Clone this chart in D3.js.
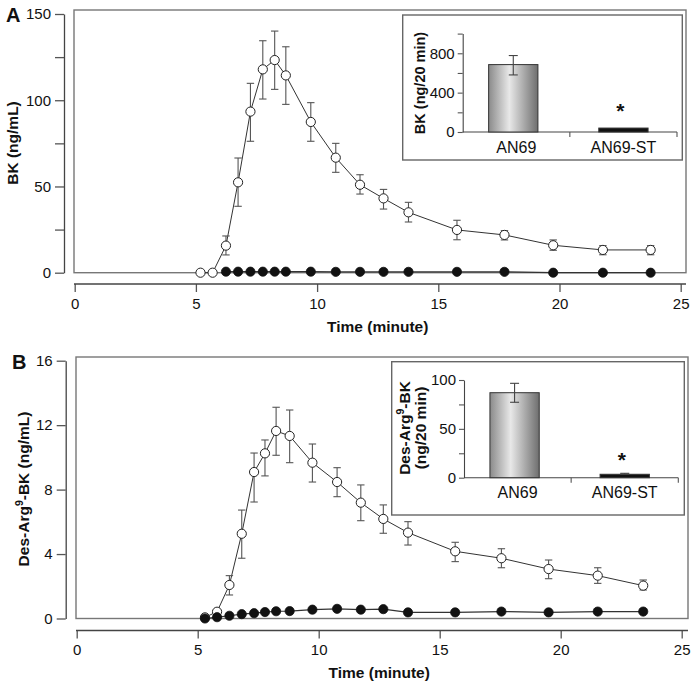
<!DOCTYPE html>
<html><head><meta charset="utf-8">
<script src="https://cdn.jsdelivr.net/npm/d3@7"></script>
<style>
body{margin:0;background:#fff}
text{font-family:"Liberation Sans", Arial, Helvetica, sans-serif;fill:#111}
</style>
</head><body>
<svg id="c" width="695" height="686"></svg>
<script>
// ---------- DATA ----------
// Panel A: BK (ng/mL)
const timeA = [5.19,5.69,6.24,6.74,7.25,7.76,8.25,8.71,9.74,10.77,11.77,12.74,13.77,15.77,17.73,19.74,21.79,23.76];
const openA = [0,0,15.7,52.4,93.4,117.9,123.3,114.4,87.4,66.7,51,43.1,35,24.8,21.9,15.9,13.2,13.2];
const openA_lo = [null,null,10.3,38.5,76.2,100.7,106.3,97.6,76.2,58.2,45.6,36.9,29.4,19.1,19,13,10.4,10.4];
const openA_hi = [null,null,21.3,66.5,109.8,134.5,140.1,131,98.6,75,56.8,48.3,40.8,30.4,24.4,19,15.7,15.7];
const filledA = [null,null,0.6,0.6,0.6,0.6,0.6,0.6,0.6,0.5,0.5,0.5,0.5,0.5,0.5,0,0,0];
// Panel B: Des-Arg9-BK (ng/mL)
const timeB = [5.30,5.80,6.31,6.82,7.33,7.78,8.24,8.80,9.74,10.76,11.74,12.67,13.69,15.64,17.55,19.50,21.53,23.41];
const openB = [0.07,0.42,2.08,5.26,9.09,10.25,11.64,11.33,9.67,8.47,7.19,6.18,5.33,4.17,3.74,3.07,2.66,2.04];
const openB_lo = [null,null,1.46,3.74,7.23,8.85,10.13,9.67,8.47,7.56,6.07,5.29,4.56,3.53,3.15,2.47,2.18,1.77];
const openB_hi = [null,null,2.66,6.73,10.27,11.08,13.11,12.94,10.83,9.36,8.29,7.05,6.01,4.73,4.33,3.63,3.15,2.39];
const filledB = [0,0.08,0.17,0.27,0.33,0.4,0.45,0.46,0.55,0.6,0.55,0.58,0.38,0.38,0.43,0.38,0.43,0.43];
// Insets
const insetCats = ["AN69","AN69-ST"];
const insetA = [685,40];
const insetA_lo = [580,null];
const insetA_hi = [777,null];
const insetB = [87,3.5];
const insetB_lo = [77.2,3.5];
const insetB_hi = [96.6,4.5];
// Ticks
const xTicks = [0,5,10,15,20,25];
const yTicksA = [0,25,50,75,100,125,150];
const yLabelsA = [0,50,100,150];
const yTicksB = [0,4,8,12,16];
const insetTicksA = [0,200,400,600,800,1000];
const insetLabelsA = [0,400,800];
const insetTicksB = [0,25,50,75,100];
const insetLabelsB = [0,50,100];

// ---------- DRAW ----------
const svg = d3.select("#c");
const defs = svg.append("defs");
const grad = defs.append("linearGradient").attr("id","barGrad").attr("x1","0").attr("x2","1").attr("y1","0").attr("y2","0");
grad.append("stop").attr("offset","0%").attr("stop-color","#8a8a8a");
grad.append("stop").attr("offset","42%").attr("stop-color","#e8e8e8");
grad.append("stop").attr("offset","100%").attr("stop-color","#6e6e6e");

const axisColor = "#444";
const FONT = "Liberation Sans, Arial, sans-serif";

function panel(cfg){
  const g = svg.append("g");
  const x = d3.scaleLinear().domain([0,25]).range(cfg.xr);
  const y = d3.scaleLinear().domain(cfg.ydom).range(cfg.yr);
  // box
  g.append("rect").attr("x",cfg.box.L).attr("y",cfg.box.T)
   .attr("width",cfg.box.R-cfg.box.L).attr("height",cfg.box.B-cfg.box.T)
   .attr("fill","none").attr("stroke","#777").attr("stroke-width",1.4);
  // y axis
  const ya = d3.axisLeft(y).tickValues(cfg.yticks).tickSize(9).tickSizeOuter(0).tickPadding(4)
     .tickFormat(d => cfg.ylabels.includes(d) ? d : "");
  const yg = g.append("g").attr("transform",`translate(${cfg.yAxisX},0)`).call(ya);
  yg.select(".domain").attr("stroke",axisColor).attr("stroke-width",1.3);
  yg.selectAll(".tick line").attr("stroke","#555").attr("stroke-width",1.3);
  yg.selectAll(".tick text").attr("font-size",15).attr("fill","#111").attr("font-family",FONT);
  // x axis
  const xa = d3.axisBottom(x).tickValues(xTicks).tickSize(8).tickSizeOuter(0).tickPadding(6);
  const xg = g.append("g").attr("transform",`translate(0,${cfg.xAxisY})`).call(xa);
  xg.select(".domain").remove();
  xg.append("line").attr("x1",cfg.box.L).attr("x2",cfg.box.R).attr("y1",0).attr("y2",0)
    .attr("stroke",axisColor).attr("stroke-width",1.3);
  xg.selectAll(".tick line").attr("stroke","#555").attr("stroke-width",1.3);
  xg.selectAll(".tick text").attr("font-size",15).attr("fill","#111").attr("font-family",FONT);
  // titles
  g.append("text").attr("x",(cfg.xr[0]+cfg.xr[1])/2).attr("y",cfg.xAxisY+47.5)
   .attr("text-anchor","middle").attr("font-weight","bold").attr("font-size",15.5).text("Time (minute)");
  const yt = g.append("text").attr("transform",`translate(${cfg.ytitleX},${cfg.ytitleY}) rotate(-90)`)
   .attr("text-anchor","middle").attr("font-weight","bold").attr("font-size",15.5);
  cfg.ytitle(yt);
  g.append("text").attr("x",cfg.letterX).attr("y",cfg.letterY).attr("font-weight","bold")
   .attr("font-size",20).text(cfg.letter);

  // data
  const openPts = cfg.time.map((t,i)=>({t,v:cfg.open[i],lo:cfg.lo[i],hi:cfg.hi[i]}));
  const fillPts = cfg.time.map((t,i)=>({t,v:cfg.filled[i]})).filter(d=>d.v!==null);
  const line = d3.line().x(d=>x(d.t)).y(d=>y(d.v));
  g.append("path").datum(openPts).attr("d",line).attr("fill","none").attr("stroke","#333").attr("stroke-width",1);
  g.append("path").datum(fillPts).attr("d",line).attr("fill","none").attr("stroke","#333").attr("stroke-width",1.2);
  const eb = openPts.filter(d=>d.lo!==null);
  const eg = g.append("g").attr("stroke","#555").attr("stroke-width",1.1);
  eg.selectAll(".v").data(eb).join("line").attr("x1",d=>x(d.t)).attr("x2",d=>x(d.t))
    .attr("y1",d=>y(d.lo)).attr("y2",d=>y(d.hi));
  eg.selectAll(".ct").data(eb).join("line").attr("x1",d=>x(d.t)-3.7).attr("x2",d=>x(d.t)+3.7)
    .attr("y1",d=>y(d.hi)).attr("y2",d=>y(d.hi));
  eg.selectAll(".cb").data(eb).join("line").attr("x1",d=>x(d.t)-3.7).attr("x2",d=>x(d.t)+3.7)
    .attr("y1",d=>y(d.lo)).attr("y2",d=>y(d.lo));
  g.selectAll(".op").data(openPts).join("circle").attr("cx",d=>x(d.t)).attr("cy",d=>y(d.v))
    .attr("r",4.6).attr("fill","#fff").attr("stroke","#222").attr("stroke-width",1);
  g.selectAll(".fp").data(fillPts).join("circle").attr("cx",d=>x(d.t)).attr("cy",d=>y(d.v))
    .attr("r",4.6).attr("fill","#111").attr("stroke","#111").attr("stroke-width",0.8);

  // inset
  const ic = cfg.inset;
  g.append("rect").attr("x",ic.box.L).attr("y",ic.box.T).attr("width",ic.box.R-ic.box.L)
   .attr("height",ic.box.B-ic.box.T).attr("fill","#fff").attr("stroke","#666").attr("stroke-width",1.4);
  const ix = d3.scaleBand().domain(insetCats).range(ic.xr).padding(0);
  const iy = d3.scaleLinear().domain(ic.ydom).range(ic.yr);
  const iya = d3.axisLeft(iy).tickValues(ic.ticks).tickSize(5).tickSizeOuter(0).tickPadding(3)
     .tickFormat(d => ic.labels.includes(d) ? d : "");
  const iyg = g.append("g").attr("transform",`translate(${ic.xr[0]},0)`).call(iya);
  iyg.select(".domain").attr("stroke",axisColor).attr("stroke-width",1.1);
  iyg.selectAll(".tick line").attr("stroke","#555").attr("stroke-width",1.1);
  iyg.selectAll(".tick text").attr("font-size",15).attr("fill","#111").attr("font-family",FONT);
  g.append("line").attr("x1",ic.xr[0]).attr("x2",ic.xr[1]).attr("y1",iy(0)).attr("y2",iy(0))
   .attr("stroke",axisColor).attr("stroke-width",1.1);
  g.selectAll(".bt").data(insetCats).join("line").attr("x1",d=>ix(d)+ix.bandwidth()).attr("x2",d=>ix(d)+ix.bandwidth())
   .attr("y1",iy(0)).attr("y2",iy(0)+5).attr("stroke","#555").attr("stroke-width",1.1);
  g.selectAll(".cl").data(insetCats).join("text").attr("x",d=>ix(d)+ix.bandwidth()/2).attr("y",iy(0)+20.5)
   .attr("text-anchor","middle").attr("font-size",16).text(d=>d);
  const bw = ix.bandwidth()*0.46;
  const bars = insetCats.map((c,i)=>({c,v:ic.vals[i],lo:ic.lo[i],hi:ic.hi[i]}));
  const cxB = d=>ix(d.c)+ix.bandwidth()/2 - (d.c==="AN69"?3:0);
  g.selectAll(".bar").data(bars).join("rect")
   .attr("x",d=>cxB(d)-bw/2).attr("width",bw)
   .attr("y",d=>iy(d.v)).attr("height",d=>iy(0)-iy(d.v))
   .attr("fill",(d,i)=> i===0 ? "url(#barGrad)" : "#111").attr("stroke","#333").attr("stroke-width",1);
  const ieb = bars.filter(d=>d.lo!==null);
  const ieg = g.append("g").attr("stroke","#444").attr("stroke-width",1.1);
  ieg.selectAll(".v").data(ieb).join("line").attr("x1",cxB).attr("x2",cxB).attr("y1",d=>iy(d.lo)).attr("y2",d=>iy(d.hi));
  ieg.selectAll(".t").data(ieb).join("line").attr("x1",d=>cxB(d)-4.5).attr("x2",d=>cxB(d)+4.5).attr("y1",d=>iy(d.hi)).attr("y2",d=>iy(d.hi));
  ieg.selectAll(".b").data(ieb).join("line").attr("x1",d=>cxB(d)-4.5).attr("x2",d=>cxB(d)+4.5).attr("y1",d=>iy(d.lo)).attr("y2",d=>iy(d.lo));
  g.append("text").attr("x",ix("AN69-ST")+ix.bandwidth()/2-3).attr("y",ic.starY).attr("text-anchor","middle")
   .attr("font-size",21).attr("font-weight","bold").text("*");
  const it = g.append("text").attr("transform",`translate(${ic.titleX},${ic.titleY}) rotate(-90)`)
   .attr("text-anchor","middle").attr("font-weight","bold").attr("font-size",ic.titleSize);
  ic.title(it);
}

panel({
  letter:"A", letterX:6, letterY:22,
  box:{L:74,R:686,T:10,B:272.7}, xr:[74.7,680.7], ydom:[0,150], yr:[272.7,14],
  yAxisX:64, xAxisY:284, yticks:yTicksA, ylabels:yLabelsA,
  ytitleX:18, ytitleY:143,
  ytitle: t => t.text("BK (ng/mL)"),
  time:timeA, open:openA, lo:openA_lo, hi:openA_hi, filled:filledA,
  inset:{box:{L:402.7,R:682.3,T:15,B:160}, xr:[462.7,677], ydom:[0,1000], yr:[132,33.6],
    ticks:insetTicksA, labels:insetLabelsA, vals:insetA, lo:insetA_lo, hi:insetA_hi, starY:118,
    titleX:425, titleY:83, titleSize:14.5, title: t => t.text("BK (ng/20 min)")}
});
panel({
  letter:"B", letterX:12, letterY:369,
  box:{L:76,R:688,T:357,B:618.5}, xr:[76.7,681.7], ydom:[0,16], yr:[618.5,360.7],
  yAxisX:65.7, xAxisY:630.5, yticks:yTicksB, ylabels:yTicksB,
  ytitleX:29, ytitleY:489,
  ytitle: t => { t.append("tspan").text("Des-Arg");
                 t.append("tspan").attr("font-size",10.5).attr("dy",-6).text("9");
                 t.append("tspan").attr("dy",6).text("-BK (ng/mL)"); },
  time:timeB, open:openB, lo:openB_lo, hi:openB_hi, filled:filledB,
  inset:{box:{L:391.7,R:684.3,T:361.7,B:515}, xr:[464,678.3], ydom:[0,100], yr:[477.7,380],
    ticks:insetTicksB, labels:insetLabelsB, vals:insetB, lo:insetB_lo, hi:insetB_hi, starY:467,
    titleX:409.5, titleY:428, titleSize:15.5, title: t => {
      t.append("tspan").attr("x",0).attr("dy",0).text("Des-Arg");
      t.append("tspan").attr("font-size",10.5).attr("dy",-6).text("9");
      t.append("tspan").attr("dy",6).text("-BK");
      t.append("tspan").attr("x",0).attr("dy",16.5).text("(ng/20 min)");
    }}
});
</script>
</body></html>
